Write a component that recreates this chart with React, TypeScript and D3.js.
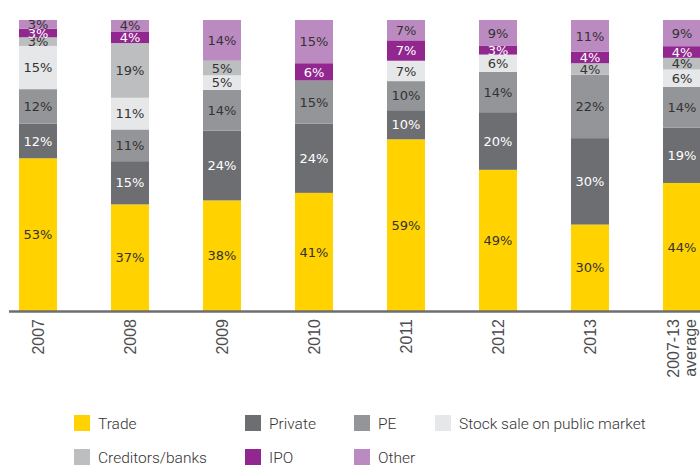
import React, { useEffect, useRef } from "react";
import * as d3 from "d3";

const categories = ["2007", "2008", "2009", "2010", "2011", "2012", "2013", "2007-13 average"];
const seriesNames = ["Trade", "Private", "PE", "Stock sale on public market", "Creditors/banks", "IPO", "Other"];
const trade = [53, 37, 38, 41, 59, 49, 30, 44];
const privateV = [12, 15, 24, 24, 10, 20, 30, 19];
const pe = [12, 11, 14, 15, 10, 14, 22, 14];
const stockSale = [15, 11, 5, 0, 7, 6, 0, 6];
const creditors = [3, 19, 5, 0, 0, 0, 4, 4];
const ipo = [3, 4, 0, 6, 7, 3, 4, 4];
const other = [3, 4, 14, 15, 7, 9, 11, 9];

const colors = ["#ffd200", "#6d6e71", "#939598", "#e6e7e8", "#bcbec0", "#91278f", "#bb8ac0"];
const labelColors = ["#333333", "#ffffff", "#333333", "#333333", "#333333", "#ffffff", "#333333"];

export default function App() {
  const ref = useRef<SVGSVGElement>(null);

  useEffect(() => {
    const svg = d3.select(ref.current);
    svg.selectAll("*").remove();

    const allSeries = [trade, privateV, pe, stockSale, creditors, ipo, other];
    const table = categories.map((c, i) => {
      const row: any = { cat: c };
      seriesNames.forEach((s, j) => (row[s] = allSeries[j][i]));
      return row;
    });

    const stack = d3.stack<any>().keys(seriesNames).offset(d3.stackOffsetExpand);
    const stacked = stack(table);

    const x = d3
      .scaleBand<string>()
      .domain(categories)
      .range([-8, 728])
      .paddingInner(54 / 92)
      .paddingOuter(27 / 92);
    const y = d3.scaleLinear().domain([0, 1]).range([311, 20]);

    const g = svg.append("g");
    stacked.forEach((layer, j) => {
      const lg = g.append("g");
      layer.forEach((d, i) => {
        const v = allSeries[j][i];
        if (!v) return;
        const x0 = x(categories[i])!;
        lg.append("rect")
          .attr("x", x0)
          .attr("y", y(d[1]))
          .attr("width", x.bandwidth())
          .attr("height", y(d[0]) - y(d[1]))
          .attr("fill", colors[j]);
      });
    });
    stacked.forEach((layer, j) => {
      layer.forEach((d, i) => {
        const v = allSeries[j][i];
        if (!v) return;
        const cx = x(categories[i])! + x.bandwidth() / 2;
        g.append("text")
          .attr("x", cx)
          .attr("y", (y(d[0]) + y(d[1])) / 2)
          .attr("dy", "0.36em")
          .attr("text-anchor", "middle")
          .attr("font-family", "'DejaVu Sans', Verdana, sans-serif")
          .attr("font-size", 13)
          .attr("fill", labelColors[j])
          .text(v + "%");
      });
    });

    // axis line
    svg.append("line")
      .attr("x1", 9)
      .attr("x2", 700)
      .attr("y1", 311.5)
      .attr("y2", 311.5)
      .attr("stroke", "#6d6e71")
      .attr("stroke-width", 2.5);

    // axis labels
    categories.forEach((c) => {
      const cx = x(c)! + x.bandwidth() / 2;
      const lines = c === "2007-13 average" ? ["2007-13", "average"] : [c];
      const t = svg.append("text")
        .attr("transform", `translate(${cx},319) rotate(-90)`)
        .attr("text-anchor", "end")
        .attr("font-family", "'Liberation Sans', Arial, sans-serif")
        .attr("font-size", 16)
        .attr("fill", "#4d4d4f");
      lines.forEach((l, k) => {
        const off = lines.length === 1 ? 0 : (k - 0.5) * 17;
        t.append("tspan")
          .attr("x", 0)
          .attr("y", off)
          .attr("dy", "0.36em")
          .text(l);
      });
    });

    // legend
    const legendPos = [
      [74, 415], [245, 415], [354, 415], [435, 415],
      [74, 449], [245, 449], [354, 449],
    ];
    seriesNames.forEach((s, j) => {
      const [lx, ly] = legendPos[j];
      svg.append("rect")
        .attr("x", lx)
        .attr("y", ly)
        .attr("width", 16)
        .attr("height", 16)
        .attr("fill", colors[j]);
      svg.append("text")
        .attr("x", lx + 24)
        .attr("y", ly + 8.5)
        .attr("dy", "0.36em")
        .attr("font-family", "Roboto, 'Liberation Sans', sans-serif")
        .attr("font-size", 15.5)
        .attr("font-weight", 300)
        .attr("fill", "#333333")
        .text(s);
    });
  }, []);

  return (
    <svg
      ref={ref}
      width={700}
      height={466}
      style={{ position: "absolute", left: 0, top: 0, background: "#fff" }}
    />
  );
}
